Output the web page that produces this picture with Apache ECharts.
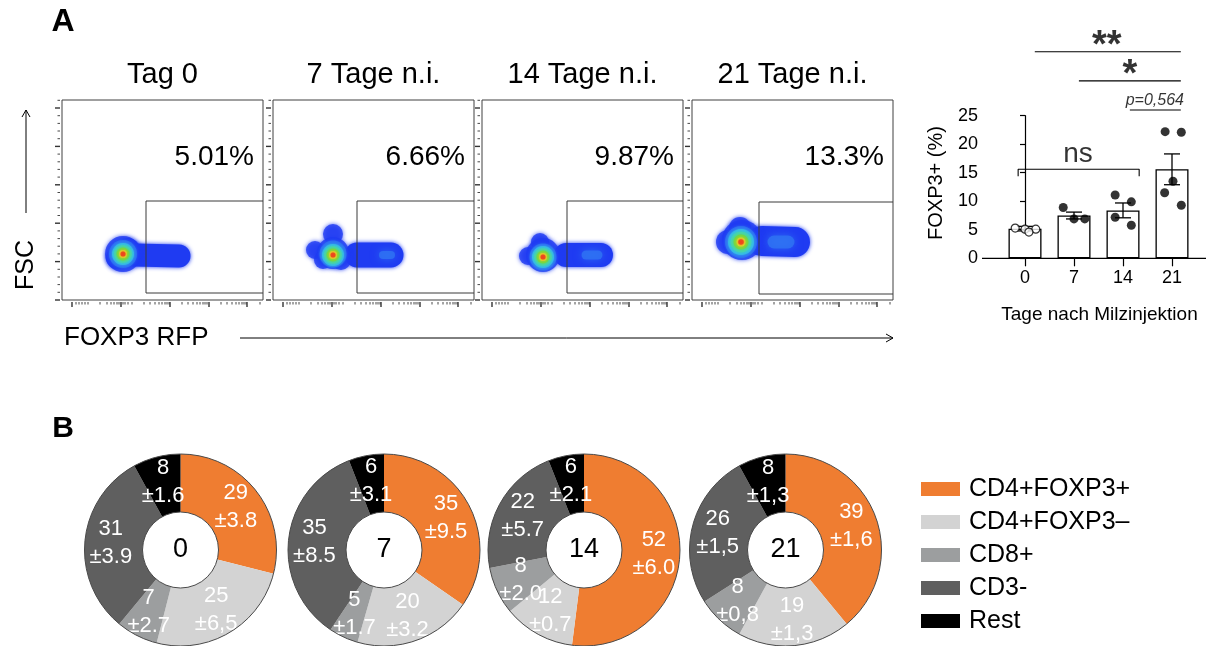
<!DOCTYPE html>
<html><head><meta charset="utf-8">
<script src="https://cdn.jsdelivr.net/npm/echarts@6/dist/echarts.min.js"></script>
<style>html,body{margin:0;padding:0;background:#fff}#c{width:1206px;height:646px}</style>
</head><body><div id="c"></div>
<script>
const FONT = "'Liberation Sans', Arial, Helvetica, sans-serif";

// ---------- Panel A: flow cytometry plots ----------
const flowTitles = ['Tag 0', '7 Tage n.i.', '14 Tage n.i.', '21 Tage n.i.'];
const flowPercents = ['5.01%', '6.66%', '9.87%', '13.3%'];
// gate: [left x, bottom y, top y]; right edge = axis max
const flowGates = [[84, 7, 99], [84, 7, 99], [85, 7, 99], [67, 6, 98]];
// density contour blobs (main population): [x, y, diameter, level]
const flowBlob0 = [
  [61,46,36,0],[55,42,22,0],[66,50,24,0],
  [61,46,28,1],[61,46,22,2],[61,46,18,3],[61,46,13,4],[61,46,8,5],[61,46,5,6]
];
const flowBlob1 = [
  [60,47,32,0],[42,50,18,0],[60,66,20,0],[50,40,18,0],[68,40,20,0],
  [60,46,27,1],[60,45,22,2],[60,45,18,3],[60,45,13,4],[60,45,8,5],[60,45,5,6]
];
const flowBlob2 = [
  [61,45,34,0],[46,44,18,0],[58,58,18,0],
  [61,43,27,1],[61,43,22,2],[61,43,18,3],[61,43,13,4],[61,43,8,5],[61,43,5,6]
];
const flowBlob3 = [
  [50,60,40,0],[36,58,24,0],[48,72,22,0],
  [49,58,32,1],[49,58,26,2],[49,58,21,3],[49,58,15,4],[49,58,9,5],[49,58,5.5,6]
];
// FOXP3+ tails of the populations: polyline + thickness, and the lighter spot inside them
const flowTail0 = [[72,45],[117,44]];
const flowTail1 = [[84,45],[118,45]];
const flowTail2 = [[84,45],[119,45]];
const flowTail3 = [[70,59],[103,58]];
const flowTailWidth = [23, 25, 24, 30];
const flowSpot0 = [];
const flowSpot1 = [[110,45],[118,45]];
const flowSpot2 = [[104,45],[116,45]];
const flowSpot3 = [[82,58],[96,58]];
const flowSpotWidth = [0, 8, 9, 13];
const flowBlobs = [flowBlob0, flowBlob1, flowBlob2, flowBlob3];
const flowTails = [flowTail0, flowTail1, flowTail2, flowTail3];
const flowSpots = [flowSpot0, flowSpot1, flowSpot2, flowSpot3];
const flowXMajor = [10, 59, 108, 147, 185];
const flowXMinor = [14, 17, 20, 23, 26, 38, 45, 49, 52, 55, 57, 61, 63, 66, 70, 82, 88, 93, 97, 100, 103, 105, 107,
  120, 126, 131, 135, 138, 141, 143, 145, 159, 165, 170, 174, 177, 180, 182, 184, 198];
const flowYMajor = [0, 38.4, 76.8, 115.2, 153.6, 192];
const flowYMinor = [7.7, 15.4, 23, 30.7, 46.1, 53.8, 61.4, 69.1, 84.5, 92.2, 99.8, 107.5,
  122.9, 130.6, 138.2, 145.9, 161.3, 169, 176.6, 184.3, 199.7];
const levelColors = ['#1f3bf2', '#2f74f2', '#36bfe9', '#45d6ae', '#76d83a', '#e8e02c', '#ee3a1c'];

// ---------- Panel A: bar chart ----------
const barCategories = ['0', '7', '14', '21'];
const barMeans = [5.2, 7.5, 8.4, 15.6];
const barSem = [0.4, 0.6, 1.3, 2.7];
const dotsDay0 = [[-0.2, 5.3], [0.0, 5.1], [0.22, 5.1], [0.08, 4.6]];
const dotsDay7 = [[0.78, 8.9], [1.0, 6.9], [1.22, 6.9]];
const dotsDay14 = [[1.84, 11.1], [2.17, 9.9], [1.84, 7.2], [2.17, 5.8]];
const dotsDay21 = [[2.86, 22.2], [3.19, 22.1], [3.02, 13.5], [2.85, 11.5], [3.19, 9.3]];
const sigLines = [
  [[0.2, 36.2], [3.18, 36.2]],
  [[1.1, 31.1], [3.18, 31.1]],
  [[2.14, 26.0], [3.18, 26.0]],
  [[-0.14, 14.4], [-0.14, 15.6], [2.33, 15.6], [2.33, 14.4]]
];
const sigLabels = ['**', '*', 'p=0,564', 'ns'];
const sigLabelPos = [[1.67, 37.1], [2.14, 32.1], [2.65, 27.7], [1.08, 18.2]];

// ---------- Panel B: donuts ----------
const pieCategories = ['CD4+FOXP3+', 'CD4+FOXP3–', 'CD8+', 'CD3-', 'Rest'];
const pieColors = ['#ef7d31', '#d3d3d3', '#9c9e9f', '#5f5f5f', '#000000'];
const pieDays = ['0', '7', '14', '21'];
const pieDay0 = [29, 25, 7, 31, 8];
const pieDay7 = [35, 20, 5, 35, 6];
const pieDay14 = [52, 12, 8, 22, 6];
const pieDay21 = [39, 19, 8, 26, 8];
const pieErr0 = ['±3.8', '±6,5', '±2.7', '±3.9', '±1.6'];
const pieErr7 = ['±9.5', '±3.2', '±1.7', '±8.5', '±3.1'];
const pieErr14 = ['±6.0', '±0.7', '±2.0', '±5.7', '±2.1'];
const pieErr21 = ['±1,6', '±1,3', '±0,8', '±1,5', '±1,3'];
const pieValues = [pieDay0, pieDay7, pieDay14, pieDay21];
const pieErrors = [pieErr0, pieErr7, pieErr14, pieErr21];

// ---------- layout ----------
const flowLeft = [62, 273, 482, 692];
const FLOW_TOP = 100, FLOW_W = 201, FLOW_H = 200;
const BAR = { left: 1000.5, top: 115.7, width: 196, height: 142.6, axisX: 982, lineEnd: 1207 };
const pieCenters = [[180.5, 550], [384, 550], [584, 550], [785.5, 550]];
const PIE_R = [38, 96];

const grids = flowLeft.map(l => ({ left: l, top: FLOW_TOP, width: FLOW_W, height: FLOW_H, show: true, borderColor: '#404040', borderWidth: 1 }));
grids.push({ left: BAR.left, top: BAR.top, width: BAR.width, height: BAR.height });

const xAxes = flowLeft.map((l, i) => ({ gridIndex: i, type: 'value', min: 0, max: FLOW_W, show: false }));
xAxes.push({ gridIndex: 4, type: 'category', data: barCategories,
  axisLine: { show: false },
  axisTick: { show: true, alignWithLabel: true, length: 8, lineStyle: { color: '#000', width: 1.2 } },
  axisLabel: { fontSize: 18, color: '#000', margin: 11, fontFamily: FONT } });
xAxes.push({ gridIndex: 4, type: 'value', min: -0.5, max: 3.5, show: false });

const yAxes = flowLeft.map((l, i) => ({ gridIndex: i, type: 'value', min: 0, max: FLOW_H, show: false }));
yAxes.push({ gridIndex: 4, type: 'value', min: 0, max: 25, interval: 5, offset: BAR.left - BAR.axisX,
  axisLine: { show: true, lineStyle: { color: '#000', width: 1.2 } },
  axisTick: { show: true, length: 5, lineStyle: { color: '#000', width: 1.2 } },
  axisLabel: { fontSize: 18, color: '#000', margin: 4, fontFamily: FONT },
  splitLine: { show: false } });

const series = [];
flowBlobs.forEach((blob, i) => {
  series.push({
    type: 'line', xAxisIndex: i, yAxisIndex: i, silent: true, symbol: 'none', clip: false, z: 2,
    data: flowTails[i],
    lineStyle: { color: levelColors[0], width: flowTailWidth[i], cap: 'round', join: 'round',
      shadowBlur: 4, shadowColor: levelColors[0] }
  });
  series.push({
    type: 'scatter', xAxisIndex: i, yAxisIndex: i, silent: true, clip: false, z: 2,
    data: blob.map(b => ({ value: [b[0], b[1]], symbolSize: b[2],
      itemStyle: { color: levelColors[b[3]], shadowBlur: b[3] === 0 ? 4 : 3, shadowColor: levelColors[b[3]] } }))
  });
  if (flowSpots[i].length) series.push({
    type: 'line', xAxisIndex: i, yAxisIndex: i, silent: true, symbol: 'none', clip: false, z: 2,
    data: flowSpots[i],
    lineStyle: { color: levelColors[1], width: flowSpotWidth[i], cap: 'round', opacity: 0.8,
      shadowBlur: 8, shadowColor: levelColors[1] }
  });
  const g = flowGates[i];
  series.push({
    type: 'line', xAxisIndex: i, yAxisIndex: i, silent: true, symbol: 'none', clip: false, z: 3,
    lineStyle: { color: '#3a3a3a', width: 1 },
    data: [[FLOW_W, g[1]], [g[0], g[1]], [g[0], g[2]], [FLOW_W, g[2]]]
  });
  const tdata = [];
  flowXMajor.forEach(v => tdata.push([0, v, 1]));
  flowXMinor.forEach(v => tdata.push([0, v, 0]));
  flowYMajor.forEach(v => tdata.push([1, v, 1]));
  flowYMinor.forEach(v => tdata.push([1, v, 0]));
  series.push({
    type: 'custom', xAxisIndex: i, yAxisIndex: i, silent: true, data: tdata,
    renderItem: (params, api) => {
      const isY = api.value(0) === 1, v = api.value(1), major = api.value(2) === 1;
      const style = { stroke: '#333', lineWidth: major ? 1.4 : 0.9 };
      if (!isY) {
        const p = api.coord([v, 0]);
        return { type: 'line', shape: { x1: p[0], y1: p[1] + 2, x2: p[0], y2: p[1] + (major ? 7 : 4.5) }, style };
      }
      const p = api.coord([0, v]);
      return { type: 'line', shape: { x1: p[0] - 2, y1: p[1], x2: p[0] - (major ? 7 : 4.5), y2: p[1] }, style };
    }
  });
});

// bar chart
series.push({ type: 'bar', xAxisIndex: 4, yAxisIndex: 4, data: barMeans, barWidth: 33, silent: true,
  itemStyle: { color: '#fff', borderColor: '#000', borderWidth: 1.3 }, z: 2 });
series.push({ type: 'custom', xAxisIndex: 5, yAxisIndex: 4, silent: true, z: 4,
  data: barMeans.map((m, i) => [i, m, barSem[i]]),
  renderItem: (params, api) => {
    const x = api.value(0), m = api.value(1), s = api.value(2);
    const top = api.coord([x, m + s]), bot = api.coord([x, m - s]);
    const w = 8, st = { stroke: '#000', lineWidth: 1.3 };
    return { type: 'group', children: [
      { type: 'line', shape: { x1: top[0], y1: top[1], x2: bot[0], y2: bot[1] }, style: st },
      { type: 'line', shape: { x1: top[0] - w, y1: top[1], x2: top[0] + w, y2: top[1] }, style: st },
      { type: 'line', shape: { x1: bot[0] - w, y1: bot[1], x2: bot[0] + w, y2: bot[1] }, style: st }
    ] };
  } });
series.push({ type: 'scatter', xAxisIndex: 5, yAxisIndex: 4, data: dotsDay0, symbolSize: 8, silent: true, z: 5,
  itemStyle: { color: '#fff', borderColor: '#000', borderWidth: 1.2 } });
[dotsDay7, dotsDay14, dotsDay21].forEach(d => series.push({ type: 'scatter', xAxisIndex: 5, yAxisIndex: 4, data: d,
  symbolSize: 9, silent: true, z: 5, itemStyle: { color: '#000' } }));
sigLines.forEach(pts => series.push({ type: 'line', xAxisIndex: 5, yAxisIndex: 4, data: pts, symbol: 'none',
  clip: false, silent: true, lineStyle: { color: '#000', width: 1.1 } }));
series.push({ type: 'scatter', xAxisIndex: 5, yAxisIndex: 4, symbolSize: 0, clip: false, silent: true,
  data: sigLabelPos.map((p, i) => ({ value: p, label: { show: true, position: 'inside', formatter: sigLabels[i],
    color: '#000', fontFamily: FONT,
    fontSize: i < 2 ? 38 : (i === 2 ? 16 : 28),
    fontWeight: i < 2 ? 'bold' : 'normal',
    fontStyle: i === 2 ? 'italic' : 'normal' } })) });

// donuts
pieValues.forEach((vals, k) => {
  series.push({
    type: 'pie', name: 'Tag ' + pieDays[k], center: pieCenters[k], radius: PIE_R, startAngle: 90, clockwise: true,
    avoidLabelOverlap: false, silent: true, animation: false,
    labelLayout: { hideOverlap: false },
    label: { show: true, position: 'inside', color: '#fff', fontSize: 22, lineHeight: 28, fontFamily: FONT,
      formatter: p => vals[p.dataIndex] + '\n' + pieErrors[k][p.dataIndex] },
    labelLine: { show: false },
    itemStyle: { borderWidth: 0 },
    data: pieCategories.map((c, j) => ({ name: c, value: vals[j], itemStyle: { color: pieColors[j] } }))
  });
  series.push({
    type: 'pie', center: pieCenters[k], radius: PIE_R, silent: true, z: 3, label: { show: false },
    data: [{ name: 'outline', value: 1, itemStyle: { color: 'rgba(0,0,0,0)', borderColor: '#4a4a4a', borderWidth: 1 } }]
  });
});

const titles = pieDays.map((d, k) => ({ text: d, left: pieCenters[k][0], top: pieCenters[k][1], textAlign: 'center',
  textVerticalAlign: 'middle', padding: 0, textStyle: { fontSize: 27, fontWeight: 'normal', color: '#000', fontFamily: FONT } }));

const graphic = [];
const txt = (x, y, text, size, extra) => graphic.push(Object.assign({ type: 'text', x, y,
  style: Object.assign({ text, fill: '#000', fontSize: size, fontFamily: FONT, align: 'center', verticalAlign: 'middle' }, extra || {}) }));
txt(63, 22, 'A', 32, { fontWeight: 'bold' });
txt(63, 429, 'B', 30, { fontWeight: 'bold' });
flowLeft.forEach((l, i) => {
  txt(l + FLOW_W / 2, 75, flowTitles[i], 29);
  txt(l + FLOW_W - 9, 157, flowPercents[i], 28, { align: 'right' });
});
graphic.push({ type: 'text', x: 26, y: 265, rotation: Math.PI / 2,
  style: { text: 'FSC', fill: '#000', fontSize: 25, fontFamily: FONT, align: 'center', verticalAlign: 'middle' } });
const ln = (x1, y1, x2, y2, w) => graphic.push({ type: 'line', shape: { x1, y1, x2, y2 }, style: { stroke: '#000', lineWidth: w || 1 } });
ln(26, 213, 26, 110); ln(26, 110, 22, 117); ln(26, 110, 30, 117);
txt(64, 338, 'FOXP3 RFP', 26, { align: 'left' });
ln(240, 338, 893, 338); ln(893, 338, 886, 334); ln(893, 338, 886, 342);
ln(BAR.axisX, BAR.top + BAR.height, BAR.lineEnd, BAR.top + BAR.height, 1.2);
graphic.push({ type: 'text', x: 936, y: 183, rotation: Math.PI / 2,
  style: { text: 'FOXP3+ (%)', fill: '#000', fontSize: 20, fontFamily: FONT, align: 'center', verticalAlign: 'middle' } });
txt(1099.5, 315, 'Tage nach Milzinjektion', 19);

const chart = echarts.init(document.getElementById('c'), null, { renderer: 'canvas' });
chart.setOption({
  animation: false,
  backgroundColor: '#fff',
  textStyle: { fontFamily: FONT },
  title: titles,
  legend: { orient: 'vertical', left: 916, top: 471.5, itemWidth: 39, itemHeight: 14, itemGap: 8, icon: 'rect',
    selectedMode: false, data: pieCategories,
    textStyle: { fontSize: 25, lineHeight: 25, color: '#000', fontFamily: FONT, padding: [0, 0, 0, 4] } },
  grid: grids, xAxis: xAxes, yAxis: yAxes, series, graphic
});
</script></body></html>
